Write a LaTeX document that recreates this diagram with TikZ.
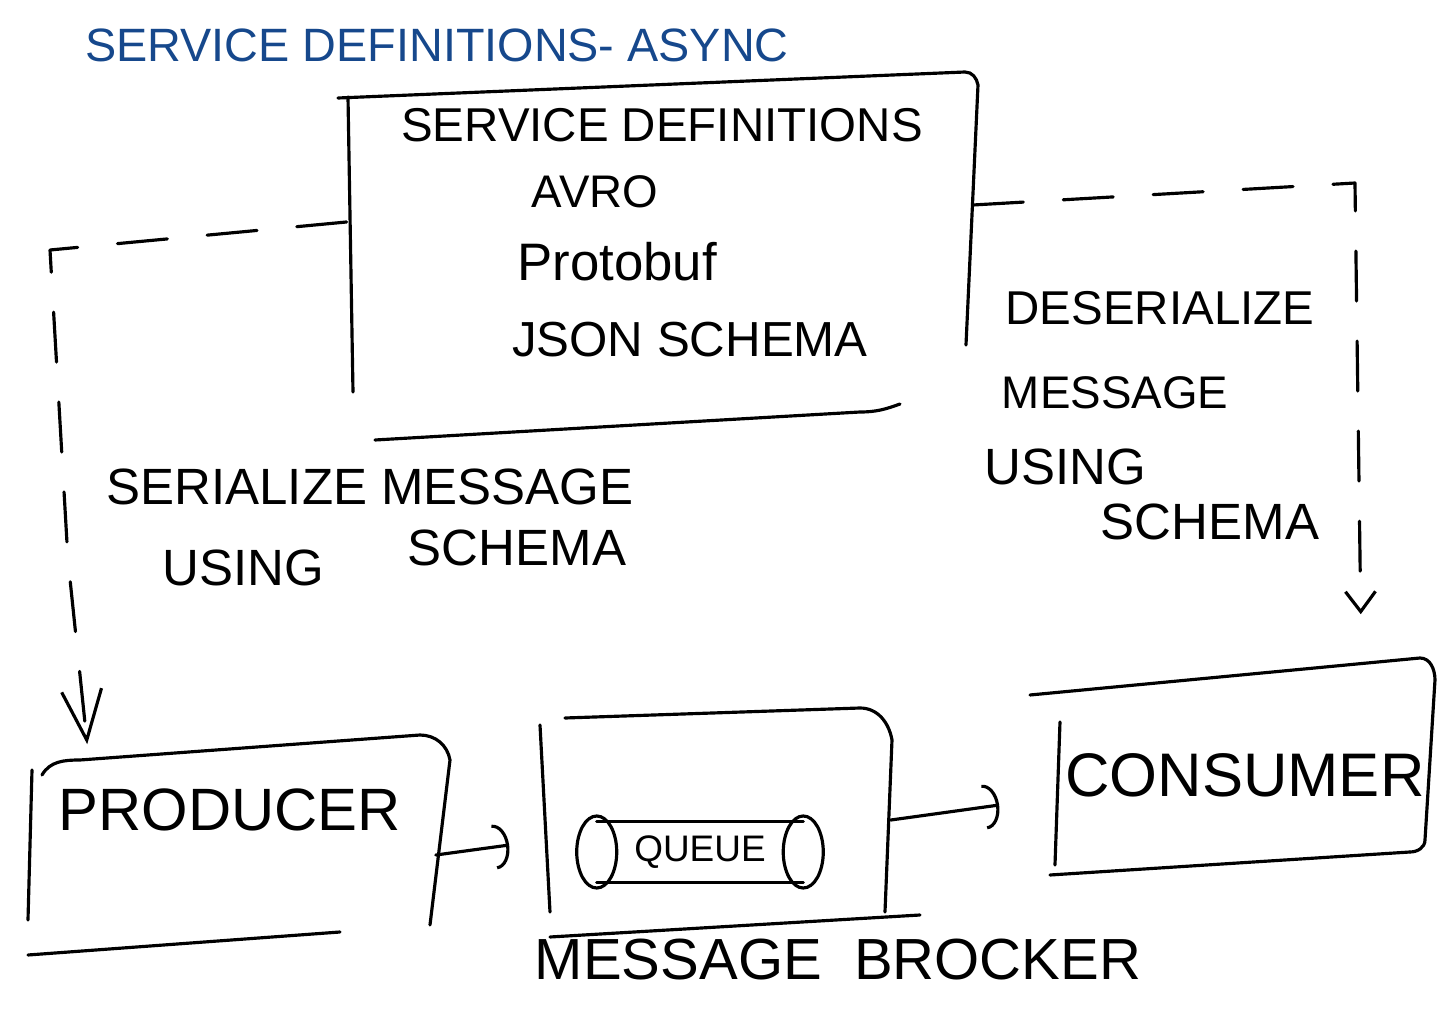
\documentclass[tikz,border=0pt]{standalone}
\usepackage{fontspec}
\setmainfont{Liberation Sans}
\usetikzlibrary{arrows.meta}
\definecolor{inkblue}{RGB}{22,72,140}

\begin{document}
\begin{tikzpicture}[x=0.01cm,y=-0.01cm,
   ink/.style={line width=0.9pt, line cap=round, line join=round},
   link/.style={ink, dash pattern=on 5mm off 4mm},
   box/.style={inner sep=0, minimum height=2cm},
   word/.style={inner sep=0, font=\fontsize{14.5}{17}\selectfont}]
   \useasboundingbox (0,0) rectangle (1453,1012);

   % title
   \node[word, inkblue, font=\fontsize{13.3}{16}\selectfont] (title) at (437,45) {SERVICE DEFINITIONS- ASYNC};

   % service definitions
   \node[box, minimum width=6.25cm, minimum height=3.4cm] (defs) at (660,255) {};
   \draw[ink] (338,98) -- (965,72) to[out=0,in=100] (978,85) -- (966,345);
   \draw[ink] (348,97) -- (353,392);
   \draw[ink] (900,404) to[out=200,in=0] (860,412) -- (375,440);
   \node[word, font=\fontsize{13.5}{16}\selectfont] (defhead) at (662,125) {SERVICE DEFINITIONS};
   \node[word, font=\fontsize{13}{16}\selectfont] (avro) at (595,192) {AVRO};
   \node[word, font=\fontsize{15}{18}\selectfont] (proto) at (617,262) {Protobuf};
   \node[word, font=\fontsize{14}{17}\selectfont] (json) at (690,340) {JSON SCHEMA};

   % producer
   \node[box, minimum width=4.2cm] (prod) at (240,845) {};
   \draw[ink] (32,770) -- (28,920);
   \draw[ink] (42,775) to[out=60,in=180] (80,760) -- (420,735) to[out=0,in=100] (450,760) -- (430,925);
   \draw[ink] (28,955) -- (340,932);
   \node[word, font=\fontsize{17}{20}\selectfont] (prodtext) at (230,810) {PRODUCER};

   % message broker
   \node[box, minimum width=3.5cm] (broker) at (718,812) {};
   \draw[ink] (540,725) -- (550,912);
   \draw[ink] (565,718) -- (860,708) to[out=0,in=100] (892,740) -- (885,912);
   \draw[ink] (550,937) -- (920,915);
   \node[word, font=\fontsize{10.5}{12}\selectfont, minimum width=2.05cm, minimum height=0.6cm] (queue) at (700,852) {QUEUE};
   \draw[ink] (queue.north west) -- (queue.north east);
   \draw[ink] (queue.south west) -- (queue.south east);
   \draw[ink] (queue.west) ellipse [x radius=0.2cm, y radius=0.36cm];
   \draw[ink] (queue.east) ellipse [x radius=0.2cm, y radius=0.36cm];
   \node[word, font=\fontsize{16.5}{20}\selectfont] (brokertext) at (838,960) {MESSAGE \ BROCKER};

   % consumer
   \node[box, minimum width=4cm] (cons) at (1235,765) {};
   \draw[ink] (1060,722) -- (1055,865);
   \draw[ink] (1030,695) -- (1420,658) to[out=0,in=90] (1435,680) -- (1425,840) to[out=270,in=0] (1410,852);
   \draw[ink] (1050,875) -- (1410,852);
   \node[word, font=\fontsize{17.5}{20}\selectfont] (constext) at (1245,775) {CONSUMER};

   % serialize side
   \node[word] (ser) at (370,487) {SERIALIZE MESSAGE};
   \node[word] (serusing) at (243,568) {USING};
   \node[word] (serschema) at (517,548) {SCHEMA};
   \draw[link, -{Straight Barb[length=5mm,width=4mm]}] ([yshift=0.33cm]defs.west) -- (50,250) -- (68,560) -- ([xshift=0.58cm]prod.north west);

   % deserialize side
   \node[word, font=\fontsize{13.5}{16}\selectfont] (deser) at (1160,308) {DESERIALIZE};
   \node[word, font=\fontsize{13}{16}\selectfont] (desmsg) at (1115,393) {MESSAGE};
   \node[word] (desusing) at (1065,467) {USING};
   \node[word] (desschema) at (1210,522) {SCHEMA};
   \draw[link, -{Straight Barb[length=2mm,width=3mm]}] ([yshift=0.5cm]defs.east) -- (1355,183) -- ([xshift=-0.75cm,yshift=0.5cm]cons.north east);

   % flow
   \draw[ink, -{Arc Barb[length=1.5mm,width=4.5mm]}] ([xshift=-0.15cm,yshift=-0.1cm]prod.east) -- ([xshift=-0.33cm,yshift=-0.33cm]broker.west);
   \draw[ink, -{Arc Barb[length=1.5mm,width=4.5mm]}] ([xshift=-0.03cm,yshift=-0.08cm]broker.east) -- ([xshift=-0.35cm,yshift=-0.4cm]cons.west);
\end{tikzpicture}
\end{document}
